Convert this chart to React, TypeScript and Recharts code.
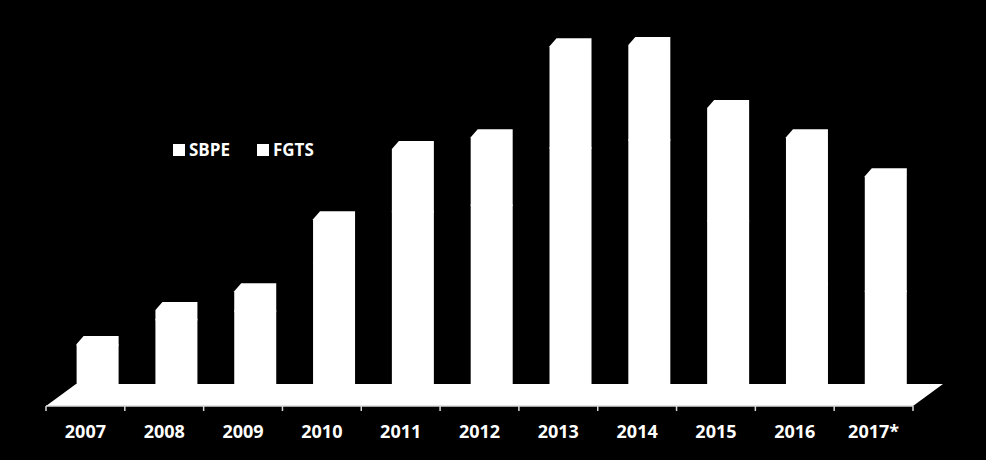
import React from 'react';
import { BarChart, Bar, XAxis, YAxis, Legend, Customized } from 'recharts';

// financing volume per year (R$ bi)
const years = ['2007', '2008', '2009', '2010', '2011', '2012', '2013', '2014', '2015', '2016', '2017*'];
const sbpe = [18.3, 30.0, 34.0, 56.2, 79.9, 82.8, 109.2, 112.9, 75.6, 46.6, 43.1];
const fgts = [3.8, 7.8, 12.5, 23.5, 32.1, 34.7, 50.2, 47.1, 55.3, 70.9, 56.4];
const seriesNames = ['SBPE', 'FGTS'];

const data = years.map((year, i) => ({ year, SBPE: sbpe[i], FGTS: fgts[i] }));

const W = 986;
const H = 460;
const margin = { top: 37, right: 73, left: 46, bottom: 46 };
const FONT = '"Open Sans", "Noto Sans", sans-serif';
const DEPTH_X = 30;
const DEPTH_Y = 22;
const SHIFT = 12.6;

const Floor = () => {
  const left = margin.left;
  const right = W - margin.right;
  const back = H - margin.bottom - 30;
  const front = back + DEPTH_Y;
  const bw = (right - left) / years.length;
  return (
    <g>
      <polygon
        points={`${left},${front} ${left + DEPTH_X},${back} ${right + DEPTH_X},${back} ${right},${front}`}
        fill="#fff"
      />
      <line x1={left} y1={front} x2={right} y2={front} stroke="#d9d9d9" strokeWidth={1.5} />
      {Array.from({ length: years.length + 1 }, (_, i) => (
        <line
          key={i}
          x1={left + i * bw}
          x2={left + i * bw}
          y1={front}
          y2={front + 5}
          stroke="#d9d9d9"
          strokeWidth={1.5}
        />
      ))}
    </g>
  );
};

const flatShape = (props: any) => {
  const { x, y, width, height } = props;
  return <rect x={x + SHIFT} y={y} width={width} height={height + 1} fill="#fff" />;
};

const topShape = (props: any) => {
  const { x, y, width, height } = props;
  const x0 = x + SHIFT;
  const b = y + height + 1.5;
  const d = `M${x0},${y + 8} L${x0 + 7},${y} L${x0 + width},${y} L${x0 + width},${b} L${x0},${b} Z`;
  return <path d={d} fill="#fff" />;
};

const YearTick = (props: any) => {
  const { x, y, payload } = props;
  return (
    <text
      x={x}
      y={y + 46}
      textAnchor="middle"
      fill="#fff"
      fontFamily={FONT}
      fontWeight={700}
      fontSize={18}
    >
      {payload.value}
    </text>
  );
};

const LegendContent = (props: any) => {
  const items = [...(props.payload || [])].sort(
    (a: any, b: any) => seriesNames.indexOf(a.value) - seriesNames.indexOf(b.value)
  );
  return (
    <div style={{ display: 'flex', fontFamily: FONT, fontWeight: 700, fontSize: 17, color: '#fff' }}>
      {items.map((item: any) => (
        <div key={item.value} style={{ display: 'flex', alignItems: 'center', marginRight: 27 }}>
          <span style={{ width: 12, height: 12, background: '#fff', display: 'inline-block', marginRight: 4 }} />
          <span>{item.value}</span>
        </div>
      ))}
    </div>
  );
};

export default function App() {
  return (
    <div style={{ position: 'absolute', left: 0, top: 0, width: W, height: H, background: '#000' }}>
      <BarChart width={W} height={H} data={data} margin={margin} barSize={42}>
        <Customized component={Floor} />
        <XAxis
          dataKey="year"
          height={30}
          axisLine={false}
          tickLine={false}
          tick={<YearTick />}
          interval={0}
        />
        <YAxis hide domain={[0, 160]} />
        <Legend
          layout="horizontal"
          verticalAlign="middle"
          align="center"
          content={<LegendContent />}
          wrapperStyle={{ left: 173, top: 138, width: 'auto' }}
        />
        <Bar dataKey="SBPE" stackId="a" fill="#fff" shape={flatShape} isAnimationActive={false} />
        <Bar dataKey="FGTS" stackId="a" fill="#fff" shape={topShape} isAnimationActive={false} />
      </BarChart>
    </div>
  );
}
